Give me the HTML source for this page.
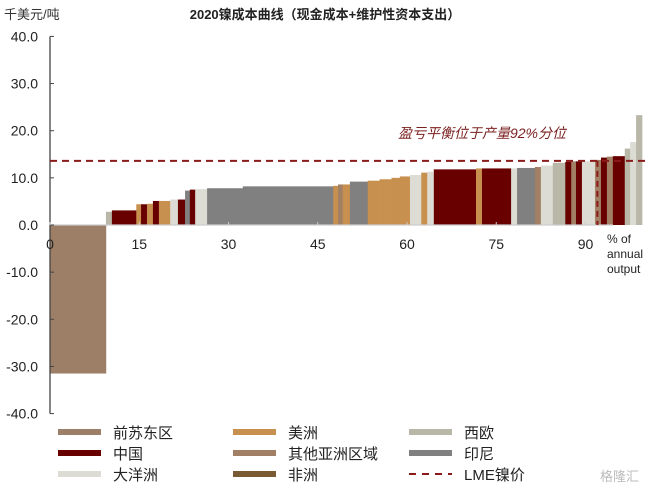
<!DOCTYPE html>
<html><head><meta charset="utf-8"><style>
body{margin:0;background:#fff;width:652px;height:493px;overflow:hidden;font-family:"Liberation Sans","Noto Sans CJK SC",sans-serif}
</style></head><body>
<svg id="chart" width="652" height="493" viewBox="0 0 652 493" xmlns="http://www.w3.org/2000/svg" font-family="Liberation Sans, Noto Sans CJK SC, sans-serif">
<text x="4" y="19" font-size="13" fill="#333">千美元/吨</text>
<text x="325" y="19" font-size="13" font-weight="bold" text-anchor="middle" fill="#222">2020镍成本曲线（现金成本+维护性资本支出）</text>
<g id="bars"></g>
<g id="axes"></g>
<text x="482" y="138" font-size="14" font-style="italic" text-anchor="middle" fill="#7a1f1f">盈亏平衡位于产量92%分位</text>
<g id="legend"></g>
<text x="600" y="481" font-size="13" fill="#bbb">格隆汇</text>
</svg>
<script>
const starts=[0,9.4,10.4,14.5,15.3,16.3,17.3,18.3,20.2,21.5,22.7,23.5,24.4,26.4,32.4,47.6,48.4,49.2,50.4,53.4,55.4,57.4,58.8,60.5,62.4,63.4,64.5,71.6,72.6,77.5,78.5,81.5,82.5,84.5,86.6,87.6,88.4,89.4,91.6,92.6,93.6,94.6,96.6,97.5,98.5];
const ends=[9.4,10.4,14.5,15.3,16.3,17.3,18.3,20.2,21.5,22.7,23.5,24.4,26.4,32.4,47.6,48.4,49.2,50.4,53.4,55.4,57.4,58.8,60.5,62.4,63.4,64.4,71.6,72.6,77.5,78.5,81.5,82.5,84.5,86.6,87.6,88.4,89.4,91.6,92.6,93.6,94.6,96.6,97.5,98.5,99.5];
const costs=[-31.5,2.8,3.1,4.4,4.4,4.5,5.1,5.1,5.4,5.4,7.3,7.5,7.6,7.8,8.2,8.3,8.6,8.6,9.2,9.4,9.7,10.0,10.3,10.6,11.1,11.3,11.8,12.0,12.0,12.0,12.1,12.3,12.6,13.2,13.4,13.5,13.5,13.5,13.8,14.3,14.5,14.6,16.2,17.6,23.3];
const regions=["fsu","weu","chn","ame","chn","ame","chn","ame","oce","chn","idn","chn","oce","idn","idn","ame","asia","ame","idn","ame","ame","ame","ame","oce","ame","oce","chn","ame","chn","oce","idn","asia","oce","weu","chn","asia","chn","oce","asia","chn","asia","chn","weu","oce","weu"];
const yTicks=[40,30,20,10,0,-10,-20,-30,-40];
const yTickLabels=["40.0","30.0","20.0","10.0","0.0","-10.0","-20.0","-30.0","-40.0"];
const xTicks=[0,15,30,45,60,75,90];
const lmePrice=13.6;
const breakevenPct=92;
const legendKeys=["fsu","ame","weu","chn","asia","idn","oce","afr","lme"];
const legendLabels=["前苏东区","美洲","西欧","中国","其他亚洲区域","印尼","大洋洲","非洲","LME镍价"];
const colors={fsu:"#9c7f66",ame:"#c8904f",weu:"#b9b8a8",chn:"#690000",asia:"#a28066",idn:"#808080",oce:"#dcdcd4",afr:"#7a5a32",lme:"#8b1a1a"};
const NS="http://www.w3.org/2000/svg";
const X=p=>50+p*5.95;
const Y=v=>225-v*4.715;
function mk(t,a,parent){const e=document.createElementNS(NS,t);for(const k in a)e.setAttribute(k,a[k]);parent.appendChild(e);return e;}
const bars=document.getElementById('bars');
for(let i=0;i<costs.length;i++){
 const y0=Math.min(Y(0),Y(costs[i])),h=Math.abs(Y(costs[i])-Y(0));
 const r=mk('rect',{x:X(starts[i]),y:y0,width:X(ends[i])-X(starts[i])+0.3,height:h,fill:colors[regions[i]]},bars);
 
 
}
const ax=document.getElementById('axes');
let l=mk('line',{x1:50,y1:Y(40),x2:50,y2:Y(-40),stroke:"#444","stroke-width":1.3},ax);

l=mk('line',{x1:50,y1:Y(0),x2:613,y2:Y(0),stroke:"#ccc","stroke-width":1.3},ax);

yTicks.forEach((v,i)=>{
 mk('line',{x1:50,y1:Y(v),x2:54,y2:Y(v),stroke:"#444"},ax);
 const t=mk('text',{x:38,y:Y(v)+5,"font-size":14,"text-anchor":"end",fill:"#222"},ax);
 t.textContent=yTickLabels[i];
 
});
xTicks.forEach(v=>{
 mk('line',{x1:X(v),y1:Y(0),x2:X(v),y2:Y(0)-3,stroke:"#ccc"},ax);
 const t=mk('text',{x:X(v)+(v===0?0:0),y:249,"font-size":14,"text-anchor":"middle",fill:"#222"},ax);
 t.textContent=String(v);
 
});
[["% of",243],["annual",258],["output",273]].forEach(([s,y])=>{
 const t=mk('text',{x:607,y:y,"font-size":12,fill:"#222"},ax);t.textContent=s;
 
});
l=mk('line',{x1:50,y1:Y(lmePrice),x2:645,y2:Y(lmePrice),stroke:colors.lme,"stroke-width":2,"stroke-dasharray":"7,5"},ax);

l=mk('line',{x1:X(breakevenPct),y1:Y(lmePrice),x2:X(breakevenPct),y2:Y(0),stroke:colors.lme,"stroke-width":2,"stroke-dasharray":"6,4"},ax);

const lg=document.getElementById('legend');
const colX=[58,233,409],rowY=[432,453,474];
legendKeys.forEach((k,i)=>{
 const cx=colX[i%3],cy=rowY[Math.floor(i/3)];
 const g=mk('g',{},lg);
 
 if(k==='lme')mk('line',{x1:cx,y1:cy,x2:cx+43,y2:cy,stroke:colors.lme,"stroke-width":2,"stroke-dasharray":"7,6"},g);
 else mk('rect',{x:cx,y:cy-3,width:43,height:6,fill:colors[k]},g);
 const t=mk('text',{x:cx+55,y:cy+6,"font-size":15,fill:"#222"},g);t.textContent=legendLabels[i];
});
</script>
</body></html>
